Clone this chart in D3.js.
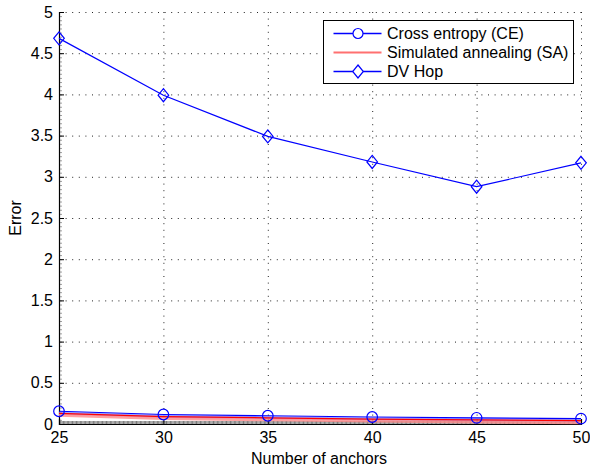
<!DOCTYPE html>
<html>
<head>
<meta charset="utf-8">
<script src="https://cdn.jsdelivr.net/npm/d3@7"></script>
<style>
  html, body { margin: 0; padding: 0; background: #fff; }
  svg { display: block; font-family: "Liberation Sans", Arial, sans-serif; }
</style>
</head>
<body>
<svg id="chart" width="590" height="468"></svg>
<script>
// Anchor counts on the x axis
const anchors = [25, 30, 35, 40, 45, 50];
// Localization error per method
const crossEntropy = [0.155, 0.115, 0.10, 0.085, 0.075, 0.065];
const simAnnealing = [0.13, 0.09, 0.075, 0.06, 0.05, 0.04];
const dvHop = [4.68, 3.99, 3.49, 3.18, 2.88, 3.17];
// Axis ticks
const xTicks = [25, 30, 35, 40, 45, 50];
const yTicks = [0, 0.5, 1, 1.5, 2, 2.5, 3, 3.5, 4, 4.5, 5];
const legendLabels = ["Cross entropy (CE)", "Simulated annealing (SA)", "DV Hop"];

const svg = d3.select("#chart");
const m = { left: 59, top: 12, right: 9, bottom: 44 };
const W = 590 - m.left - m.right, H = 468 - m.top - m.bottom;

const x = d3.scaleLinear().domain([25, 50]).range([0, W]);
const y = d3.scaleLinear().domain([0, 5]).range([H, 0]);

const g = svg.append("g").attr("transform", `translate(${m.left},${m.top})`);

// dotted grid
const dots = "1,5.6";
g.append("g").selectAll("line").data(yTicks).join("line")
  .attr("x1", 0).attr("x2", W)
  .attr("y1", d => y(d) + 0.5).attr("y2", d => y(d) + 0.5)
  .attr("stroke", "#222").attr("stroke-width", 1).attr("stroke-dasharray", dots);
g.append("g").selectAll("line").data(xTicks).join("line")
  .attr("y1", 0).attr("y2", H)
  .attr("x1", d => x(d) + 0.5).attr("x2", d => x(d) + 0.5)
  .attr("stroke", "#222").attr("stroke-width", 1).attr("stroke-dasharray", dots);

// minor ticks
const xMinor = d3.range(0, 25 * 16 + 1).map(i => 25 + i / 16);
g.append("g").selectAll("line").data(xMinor).join("line")
  .attr("x1", d => x(d) + 0.5).attr("x2", d => x(d) + 0.5)
  .attr("y1", H).attr("y2", H - 3)
  .attr("stroke", "#555").attr("stroke-width", 0.8);
const yMinor = d3.range(0, 101).map(i => i * 0.05);
g.append("g").selectAll("line").data(yMinor).join("line")
  .attr("x1", 0).attr("x2", 3)
  .attr("y1", d => y(d) + 0.5).attr("y2", d => y(d) + 0.5)
  .attr("stroke", "#777").attr("stroke-width", 0.7);

// axes
const xAxis = d3.axisBottom(x).tickValues(xTicks).tickSize(-5).tickPadding(8).tickFormat(d3.format("d"));
const yAxis = d3.axisLeft(y).tickValues(yTicks).tickSize(-5).tickPadding(6).tickFormat(d => String(d));

const gx = g.append("g").attr("transform", `translate(0,${H})`).call(xAxis);
const gy = g.append("g").call(yAxis);
[gx, gy].forEach(a => {
  a.select(".domain").attr("stroke", "#000").attr("stroke-width", 1.2);
  a.selectAll(".tick line").attr("stroke", "#000");
  a.selectAll("text").attr("font-size", 16).attr("fill", "#000")
    .attr("font-family", "'Liberation Sans', Arial, sans-serif");
});
gx.selectAll("text").attr("dy", "0.71em");

// axis titles
svg.append("text").attr("x", m.left + W / 2 - 1).attr("y", 464)
  .attr("text-anchor", "middle").attr("font-size", 16).text("Number of anchors");
svg.append("text").attr("transform", `translate(21,${m.top + H / 2}) rotate(-90)`)
  .attr("text-anchor", "middle").attr("font-size", 16).text("Error");

const line = d3.line().x((d, i) => x(anchors[i])).y(d => y(d));

// soft halo under the low-error lines
g.append("path").datum(crossEntropy).attr("d", line)
  .attr("transform", "translate(0,2)")
  .attr("fill", "none").attr("stroke", "#8c8cff").attr("stroke-opacity", 0.8).attr("stroke-width", 3);
g.append("path").datum(simAnnealing).attr("d", line)
  .attr("transform", "translate(0,2)")
  .attr("fill", "none").attr("stroke", "#ff8a8a").attr("stroke-opacity", 0.8).attr("stroke-width", 3);

g.append("path").datum(crossEntropy).attr("d", line)
  .attr("fill", "none").attr("stroke", "#0000ff").attr("stroke-width", 1.2);
g.append("path").datum(simAnnealing).attr("d", line)
  .attr("fill", "none").attr("stroke", "#ff0000").attr("stroke-width", 1.2);
g.append("path").datum(dvHop).attr("d", line)
  .attr("fill", "none").attr("stroke", "#0000ff").attr("stroke-width", 1.2);

// markers
g.append("g").selectAll("circle").data(crossEntropy).join("circle")
  .attr("cx", (d, i) => x(anchors[i])).attr("cy", d => y(d)).attr("r", 5.3)
  .attr("fill", "none").attr("stroke", "#0000ff").attr("stroke-width", 1.2);
const diamond = (cx, cy) => `M${cx},${cy - 6.5}L${cx + 5.3},${cy}L${cx},${cy + 6.5}L${cx - 5.3},${cy}Z`;
g.append("g").selectAll("path").data(dvHop).join("path")
  .attr("d", (d, i) => diamond(x(anchors[i]), y(d)))
  .attr("fill", "none").attr("stroke", "#0000ff").attr("stroke-width", 1.2);

// legend
const lg = svg.append("g").attr("transform", "translate(323.5,20.5)");
lg.append("rect").attr("width", 250).attr("height", 63)
  .attr("fill", "#fff").attr("stroke", "#000").attr("stroke-width", 1);
const rows = [13, 32, 51];
legendLabels.forEach((t, i) => {
  const ry = rows[i];
  const stroke = i === 1 ? "#ff7070" : "#0000ff";
  lg.append("line").attr("x1", 10).attr("x2", 58).attr("y1", ry).attr("y2", ry)
    .attr("stroke", stroke).attr("stroke-width", i === 1 ? 2.2 : 1.3);
  if (i === 0) lg.append("circle").attr("cx", 34.5).attr("cy", ry).attr("r", 5)
    .attr("fill", "#fff").attr("stroke", "#0000ff").attr("stroke-width", 1.2);
  if (i === 2) lg.append("path").attr("d", diamond(34.5, ry))
    .attr("fill", "#fff").attr("stroke", "#0000ff").attr("stroke-width", 1.2);
  lg.append("text").attr("x", 63.5).attr("y", ry).attr("dy", "0.35em")
    .attr("font-size", 16).text(t);
});
</script>
</body>
</html>
